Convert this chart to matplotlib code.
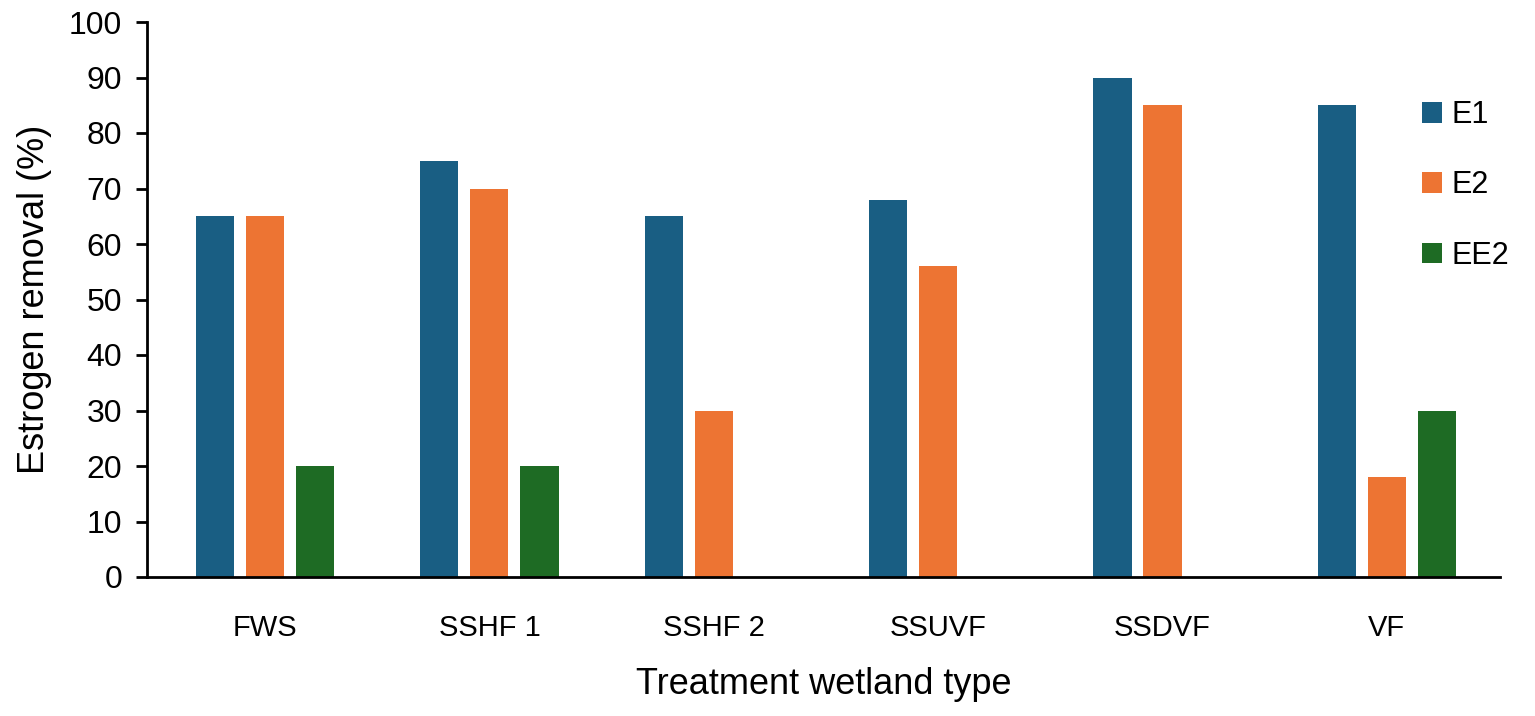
import matplotlib.pyplot as plt
import numpy as np

plt.rcParams['font.family'] = ['Liberation Sans', 'DejaVu Sans']

categories = ['FWS', 'SSHF 1', 'SSHF 2', 'SSUVF', 'SSDVF', 'VF']
e1 = [65, 75, 65, 68, 90, 85]
e2 = [65, 70, 30, 56, 85, 18]
ee2 = [20, 20, 0, 0, 0, 30]
series_names = ['E1', 'E2', 'EE2']
colors = ['#195E83', '#ED7433', '#1E6B24']

fig = plt.figure(figsize=(15.35, 7.16), dpi=100)
ax = fig.add_axes([147 / 1535, 139 / 716, 1353 / 1535, 555 / 716])

x = np.arange(len(categories))
width = 0.17
offsets = [-0.223, 0.0, 0.223]
for vals, off, col, name in zip([e1, e2, ee2], offsets, colors, series_names):
    ax.bar(x + off, vals, width, color=col, label=name)

ax.set_xlim(-0.526, 5.504)
ax.set_ylim(0, 100)
ax.set_yticks(np.arange(0, 101, 10))
ax.set_xticks(x)
ax.set_xticklabels(categories)
ax.tick_params(axis='y', labelsize=23, length=8, width=2, pad=10)
ax.tick_params(axis='x', labelsize=21, length=0, pad=27)

for s in ['top', 'right']:
    ax.spines[s].set_visible(False)
for s in ['left', 'bottom']:
    ax.spines[s].set_linewidth(2)

ax.set_ylabel('Estrogen removal (%)', fontsize=26, labelpad=12)
ax.set_xlabel('Treatment wetland type', fontsize=26, labelpad=18)

fig.legend(loc='upper left', bbox_to_anchor=(1422 / 1535, 1 - 100 / 716),
           frameon=False, fontsize=22, borderpad=0, borderaxespad=0,
           handlelength=0.66, handleheight=0.66,
           labelspacing=1.32, handletextpad=0.3)

fig.savefig('out.png', dpi=100)
